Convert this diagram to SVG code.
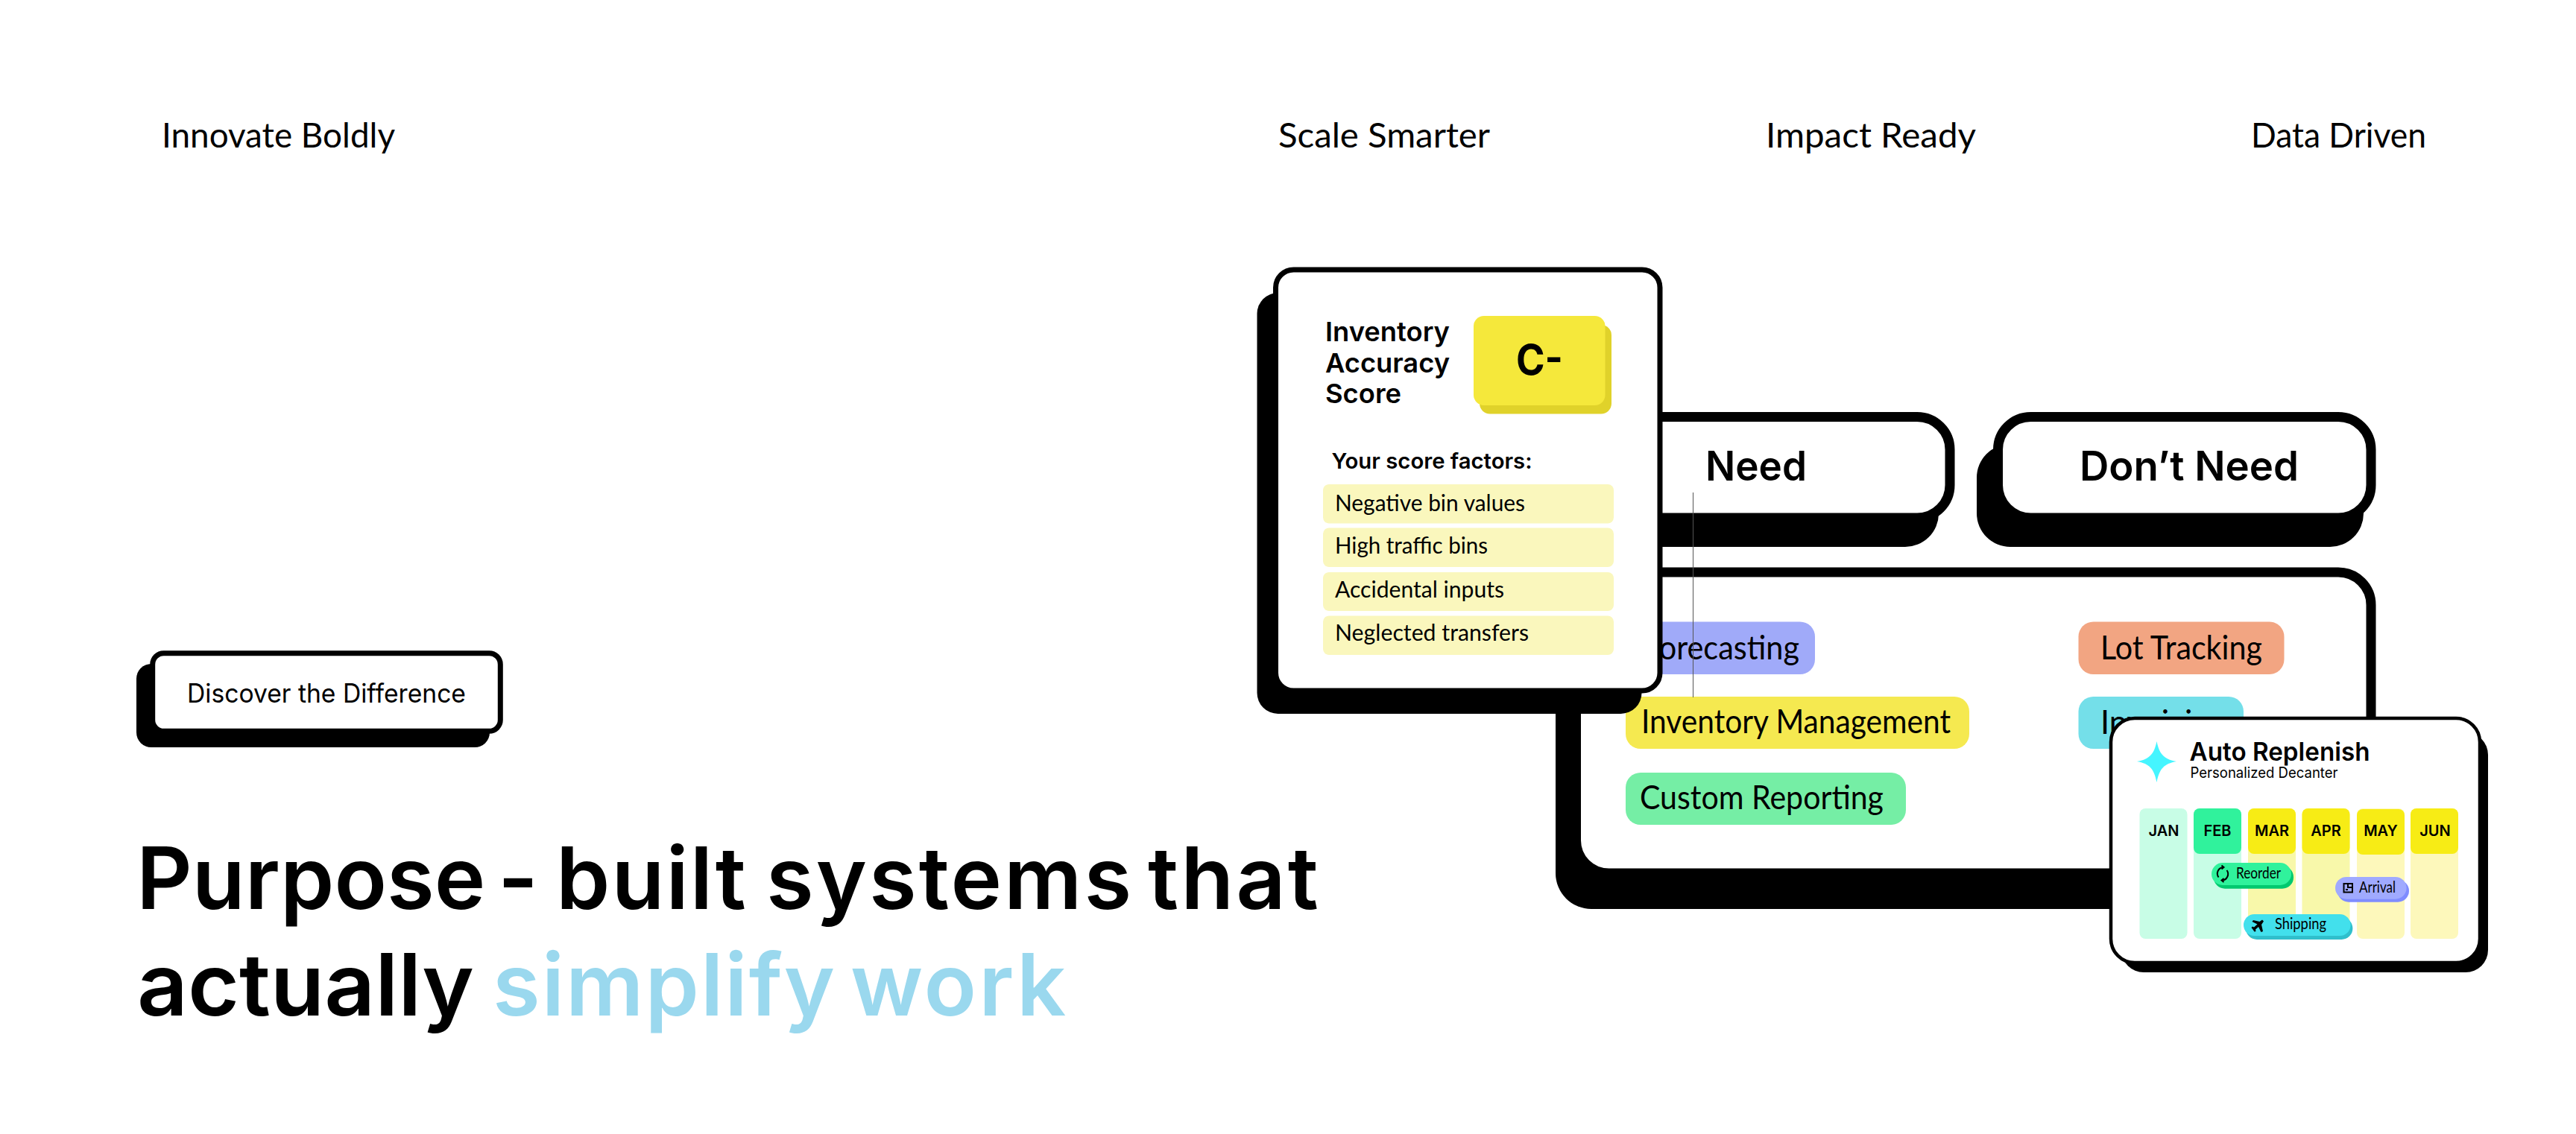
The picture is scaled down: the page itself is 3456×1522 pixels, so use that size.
<svg xmlns="http://www.w3.org/2000/svg" width="3456" height="1522" viewBox="0 0 3456 1522">
<style>
text{font-family:"Inter","Liberation Sans",sans-serif;fill:#000}
.top{font-family:"Lato","Liberation Sans",sans-serif;font-size:46px;font-weight:400}
.head{font-size:116px;font-weight:600}
.sky{fill:#9ad8ee}
.sh{fill:#000}
.box{fill:#fff;stroke:#000}
.pill{font-family:"Lato","Noto Sans",sans-serif;font-size:44px}
.fac{font-family:"Lato","Noto Sans",sans-serif;font-size:31px}
.row{fill:#faf7bd}
.score{font-size:36px;font-weight:600}
.btn{font-size:55px;font-weight:600}
.mon{font-size:20px;font-weight:600;text-anchor:middle}
.tag{font-family:"Lato","Noto Sans",sans-serif;font-size:21px}
.ic{fill:none;stroke:#000;stroke-width:2}
</style>

<g id="label-innovate"><text class="top" x="217" y="198" textLength="313" lengthAdjust="spacingAndGlyphs">Innovate Boldly</text></g>
<g id="label-scale"><text class="top" x="1715" y="198" textLength="284" lengthAdjust="spacingAndGlyphs">Scale Smarter</text></g>
<g id="label-impact"><text class="top" x="2369" y="198" textLength="282" lengthAdjust="spacingAndGlyphs">Impact Ready</text></g>
<g id="label-data"><text class="top" x="3020" y="198" textLength="235" lengthAdjust="spacingAndGlyphs">Data Driven</text></g>

<g id="discover">
<rect class="sh" x="183" y="891" width="474" height="112" rx="20"/>
<rect class="box" x="204.700" y="876.700" width="466.600" height="104.600" rx="15" stroke-width="7"/>
<text x="251" y="943" font-size="35" textLength="374" lengthAdjust="spacingAndGlyphs">Discover the Difference</text>
</g>

<g id="headline">
<text class="head" y="1220"><tspan x="183">Purpose</tspan> <tspan x="668">-</tspan> <tspan x="746" letter-spacing="2">built</tspan> <tspan x="1028" letter-spacing="3">systems</tspan> <tspan x="1540" letter-spacing="3">that</tspan></text>
<text class="head" x="184" y="1363" textLength="452" lengthAdjust="spacingAndGlyphs">actually</text>
<text class="head sky" y="1363"><tspan x="661" letter-spacing="2">simplify</tspan> <tspan x="1141" letter-spacing="3">work</tspan></text>
</g>

<g id="need-panel">
<rect class="sh" x="2087" y="790" width="1079" height="430" rx="48"/>
<rect class="box" x="2114.500" y="768" width="1066.500" height="404" rx="44" stroke-width="13"/>
</g>
<g id="need-button">
<rect class="sh" x="2087" y="596" width="514" height="138" rx="45"/>
<rect class="box" x="2114.500" y="559.500" width="501.500" height="135.500" rx="44" stroke-width="13"/>
<text class="btn" x="2288" y="645" textLength="136" lengthAdjust="spacingAndGlyphs">Need</text>
</g>
<g id="dont-need-button">
<rect class="sh" x="2652" y="596" width="519" height="138" rx="45"/>
<rect class="box" x="2680.500" y="559.500" width="500.500" height="135.500" rx="44" stroke-width="13"/>
<text class="btn" x="2790" y="645" textLength="294" lengthAdjust="spacingAndGlyphs">Don’t Need</text>
</g>

<g id="pill-forecasting"><rect x="2183" y="834.500" width="252" height="70.500" rx="20" fill="#a0aaf9"/><text class="pill" x="2204" y="885" textLength="210" lengthAdjust="spacingAndGlyphs">Forecasting</text></g>
<g id="pill-inventory"><rect x="2181" y="935" width="461" height="70" rx="20" fill="#f5e950"/><text class="pill" x="2202" y="984" textLength="415" lengthAdjust="spacingAndGlyphs">Inventory Management</text></g>
<g id="pill-custom"><rect x="2181" y="1037" width="376" height="70" rx="20" fill="#75eea5"/><text class="pill" x="2200" y="1086" textLength="327" lengthAdjust="spacingAndGlyphs">Custom Reporting</text></g>
<g id="pill-lot"><rect x="2788.500" y="834.500" width="276" height="70.500" rx="20" fill="#f2a582"/><text class="pill" x="2818" y="885" textLength="217" lengthAdjust="spacingAndGlyphs">Lot Tracking</text></g>
<g id="pill-invoicing"><rect x="2788.500" y="935" width="221.500" height="70" rx="20" fill="#74dfe9"/><text class="pill" x="2818" y="985" textLength="170" lengthAdjust="spacingAndGlyphs">Invoicing</text></g>

<g id="connectors"><line x1="2271.500" y1="661" x2="2271.500" y2="936" stroke="#555" stroke-width="1"/></g>

<g id="score-card">
<rect class="sh" x="1686.500" y="393" width="516" height="565" rx="28"/>
<rect class="box" x="1711.500" y="362" width="515.500" height="565" rx="24" stroke-width="7"/>
<text class="score" x="1778" y="458" textLength="167" lengthAdjust="spacingAndGlyphs">Inventory</text>
<text class="score" x="1778" y="500" textLength="167" lengthAdjust="spacingAndGlyphs">Accuracy</text>
<text class="score" x="1778" y="541" textLength="102" lengthAdjust="spacingAndGlyphs">Score</text>
<rect x="1985" y="436" width="177" height="119.500" rx="14" fill="#e0d22a"/>
<rect x="1977" y="424" width="176.500" height="120" rx="14" fill="#f5e83b"/>
<text x="2034" y="503" font-size="56" font-weight="700" textLength="63" lengthAdjust="spacingAndGlyphs">C-</text>
<text x="1786.500" y="629" font-size="29" font-weight="600" textLength="269" lengthAdjust="spacingAndGlyphs">Your score factors:</text>
<rect class="row" x="1775" y="650" width="390" height="52.500" rx="8"/>
<text class="fac" x="1791" y="686" textLength="255" lengthAdjust="spacingAndGlyphs">Negative bin values</text>
<rect class="row" x="1775" y="708.500" width="390" height="52.500" rx="8"/>
<text class="fac" x="1791" y="743" textLength="205" lengthAdjust="spacingAndGlyphs">High traffic bins</text>
<rect class="row" x="1775" y="768" width="390" height="52" rx="8"/>
<text class="fac" x="1791" y="802" textLength="227" lengthAdjust="spacingAndGlyphs">Accidental inputs</text>
<rect class="row" x="1775" y="826.500" width="390" height="52.500" rx="8"/>
<text class="fac" x="1791" y="860" textLength="260" lengthAdjust="spacingAndGlyphs">Neglected transfers</text>
</g>

<g id="auto-card">
<rect class="sh" x="2846" y="983" width="492" height="322" rx="30"/>
<rect class="box" x="2832" y="964" width="495" height="328" rx="32" stroke-width="4.500"/>
<path d="M2893.500 995C2897 1012 2903 1019 2920 1022C2903 1025 2897 1032 2893.500 1050C2890 1032 2884 1025 2867 1022C2884 1019 2890 1012 2893.500 995Z" fill="#45f5ff"/>
<text x="2937.500" y="1021" font-size="34" font-weight="600" textLength="242" lengthAdjust="spacingAndGlyphs">Auto Replenish</text>
<text x="2938.500" y="1044" font-size="20" font-family="Lato" textLength="198" lengthAdjust="spacingAndGlyphs">Personalized Decanter</text>
<g id="months">
<rect x="2870.500" y="1085" width="64" height="175" rx="8" fill="#c8fde6"/>
<rect x="2943" y="1085" width="64" height="175" rx="8" fill="#c8fde6"/>
<rect x="3016" y="1085" width="64" height="175" rx="8" fill="#f8f8aa"/>
<rect x="3088.500" y="1085" width="64" height="175" rx="8" fill="#f8f8aa"/>
<rect x="3162" y="1085" width="64" height="175" rx="8" fill="#fdf8bb"/>
<rect x="3234" y="1085" width="64" height="175" rx="8" fill="#fdf8bb"/>
<rect x="2943" y="1085" width="64" height="61" rx="8" fill="#30f29c"/>
<rect x="3016" y="1085" width="64" height="61" rx="8" fill="#f7ec15"/>
<rect x="3088.500" y="1085" width="64" height="61" rx="8" fill="#f7ec15"/>
<rect x="3162" y="1086" width="64" height="61" rx="8" fill="#f7ec15"/>
<rect x="3234" y="1085" width="64" height="61" rx="8" fill="#f7ec15"/>
<text class="mon" x="2903" y="1122">JAN</text>
<text class="mon" x="2975" y="1122">FEB</text>
<text class="mon" x="3048" y="1122">MAR</text>
<text class="mon" x="3120.500" y="1122">APR</text>
<text class="mon" x="3194" y="1122">MAY</text>
<text class="mon" x="3267" y="1122">JUN</text>
</g>
<g id="tag-reorder">
<rect x="2970" y="1162" width="107" height="30.700" rx="15" fill="#00c96f"/>
<rect x="2967" y="1158" width="107" height="30" rx="15" fill="#30f29c"/>
<path class="ic" d="M2976.500 1177.500A8.500 8.500 0 0 1 2983 1164M2987.500 1168A8.500 8.500 0 0 1 2981 1181.500"/>
<path class="ic" d="M2980.500 1161.500L2983.500 1164L2980.500 1166.500M2983.500 1179L2980.500 1181.500L2983.500 1184"/>
<text class="tag" x="3000" y="1179" textLength="60" lengthAdjust="spacingAndGlyphs">Reorder</text>
</g>
<g id="tag-arrival">
<rect x="3136" y="1181" width="96" height="29.700" rx="15" fill="#7f8cff"/>
<rect x="3133" y="1177" width="95.600" height="29.700" rx="15" fill="#a0aaff"/>
<rect class="ic" x="3144.500" y="1186" width="11.500" height="11.500"/>
<path class="ic" d="M3150 1186V1191H3155M3147 1194H3150"/>
<text class="tag" x="3165" y="1198" textLength="49" lengthAdjust="spacingAndGlyphs">Arrival</text>
</g>
<g id="tag-shipping">
<rect x="3013" y="1231" width="143.400" height="30" rx="15" fill="#30bfcc"/>
<rect x="3010" y="1227" width="143.600" height="29" rx="14.500" fill="#42e0ec"/>
<path d="M3035 1234.500L3037 1236.500L3034 1241L3036 1250L3033.500 1251L3030 1244L3026 1247.500L3026.500 1250L3024.500 1250.500L3022.500 1247.500L3020.500 1245L3022 1243.500L3024 1244.500L3028.500 1240.500L3021.500 1237L3023 1235L3031.500 1237Z" fill="#000"/>
<text class="tag" x="3052" y="1247" textLength="69" lengthAdjust="spacingAndGlyphs">Shipping</text>
</g>
</g>
</svg>
